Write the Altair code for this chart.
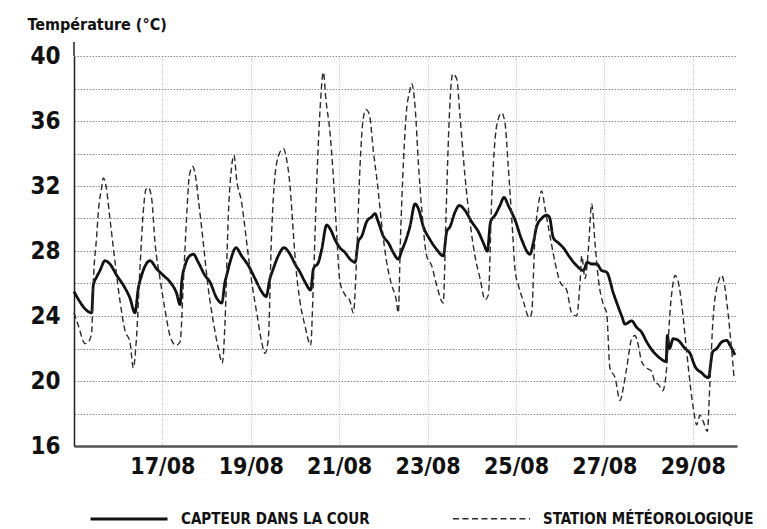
import altair as alt
import pandas as pd

# ---- data (hours since 15/08 00:00, temperature °C) ----
capteur_h = [0, 9.6, 10.5, 12.3, 14.1, 16.8, 19.5, 23.2, 26.8, 30.4, 33.1, 34.9, 36.7, 41.3, 44.9,
             48.5, 52.1, 55.7, 57.6, 58.5, 60.3, 62.1, 64.8, 67.5, 71.1, 73.8, 77.5, 80.2, 82.0, 82.9,
             84.7, 88.0, 91.0, 94.7, 98.3, 101.9, 104.3, 106.4, 108.2, 110.9, 114.0, 117.3, 120.0,
             122.7, 125.4, 128.5, 130.0, 132.7, 134.5, 137.2, 139.4, 141.7, 144.4, 147.2, 149.9,
             152.6, 154.4, 156.2, 158.9, 161.6, 163.4, 165.2, 168.0, 170.7, 173.4, 176.1, 177.9,
             180.6, 182.4, 185.2, 187.0, 189.7, 193.3, 196.9, 200.5, 202.4, 204.2, 206.9, 209.2,
             212.3, 215.9, 219.5, 222.3, 224.4, 226.2, 228.6, 231.3, 233.5, 235.8, 239.5, 243.1,
             247.6, 249.4, 251.2, 253.9, 256.7, 258.1, 260.3, 263.0, 265.7, 269.3, 272.9, 276.6,
             278.7, 281.1, 283.8, 286.5, 289.2, 292.9, 297.4, 299.2, 302.8, 305.5, 308.2, 311.0,
             314.6, 318.2, 321.5, 322.2, 323.3, 325.4, 328.1, 331.8, 334.5, 337.2, 340.8, 344.4,
             346.8, 349.0, 351.7, 354.4, 356.2, 358.9]
capteur_t = [25.5, 24.2, 25.9, 26.4, 26.8, 27.4, 27.2, 26.5, 25.9, 25.1, 24.2, 25.7, 26.5, 27.4, 26.9,
             26.5, 26.1, 25.4, 24.7, 26.1, 27.1, 27.6, 27.8, 27.3, 26.5, 26.1, 25.1, 24.8, 26.1, 26.5,
             27.3, 28.2, 27.7, 27.1, 26.3, 25.5, 25.2, 26.3, 26.9, 27.7, 28.2, 27.8, 27.2,
             26.7, 26.1, 25.6, 26.9, 27.3, 28.1, 29.6, 29.3, 28.7, 28.2, 27.9, 27.5,
             27.3, 28.6, 28.9, 29.8, 30.1, 30.3, 29.8, 28.9, 28.5, 27.9, 27.5, 28.0,
             28.8, 29.5, 30.9, 30.6, 29.5, 28.7, 28.1, 27.7, 29.2, 29.5, 30.4, 30.8,
             30.5, 29.8, 29.2, 28.5, 28.0, 29.8, 30.2, 30.8, 31.3, 30.8, 29.9, 28.7,
             27.8, 28.5, 29.5, 30.0, 30.2, 30.1, 28.8, 28.5, 28.2, 27.6, 27.1, 26.8,
             27.3, 27.2, 27.2, 26.8, 26.7, 25.4, 24.0, 23.5, 23.7, 23.3, 23.0, 22.4,
             21.8, 21.4, 21.2, 22.8, 22.0, 22.6, 22.5, 22.0, 21.7, 20.9, 20.5, 20.2,
             21.8, 22.0, 22.4, 22.5, 22.2, 21.6]

station_h = [0, 2.4, 6.0, 7.8, 9.6, 10.5, 12.3, 13.2, 15.0, 15.9, 17.4, 19.5, 22.3, 25.0, 27.7, 30.4,
             32.2, 34.0, 35.8, 37.6, 39.1, 40.4, 42.2, 44.0, 46.7, 49.4, 52.1, 55.4, 57.6, 59.4, 61.2,
             62.6, 64.4, 65.7, 67.5, 70.2, 72.9, 75.7, 78.4, 80.5, 82.0, 83.8, 85.6, 86.9, 88.3, 91.0,
             93.8, 96.5, 99.2, 101.9, 103.7, 105.5, 107.3, 109.1, 111.5, 113.7, 115.5, 117.3, 119.1,
             120.5, 122.7, 125.4, 128.5, 130.0, 131.8, 133.6, 135.4, 136.8, 139.0, 140.8, 142.6,
             144.4, 147.2, 149.9, 151.7, 153.5, 155.3, 157.1, 158.6, 160.4, 162.5, 164.7, 167.1,
             169.8, 172.5, 174.8, 176.1, 177.2, 178.5, 180.3, 182.4, 183.3, 185.2, 187.0, 188.8,
             191.5, 194.2, 196.9, 200.5, 202.0, 203.8, 205.6, 207.8, 209.6, 212.3, 215.0, 217.7,
             220.5, 223.2, 225.0, 226.8, 229.5, 232.2, 234.0, 235.8, 238.2, 239.5, 241.3, 244.0,
             247.2, 248.5, 250.3, 252.1, 253.9, 255.8, 258.5, 261.2, 263.9, 267.5, 270.2, 272.9,
             274.8, 275.7, 277.5, 279.3, 281.1, 282.9, 284.7, 287.4, 289.2, 291.0, 293.8, 296.5,
             298.3, 300.1, 302.8, 304.6, 306.4, 308.2, 311.0, 313.7, 315.5, 317.3, 319.6, 321.8,
             323.6, 325.4, 326.3, 328.1, 330.0, 331.8, 333.6, 336.3, 338.1, 339.9, 341.7, 343.9,
             345.3, 347.1, 349.9, 351.7, 352.9, 354.4, 356.2, 358.4]
station_t = [24.2, 23.4, 22.3, 22.4, 23.0, 26.1, 28.9, 30.4, 31.9, 32.5, 32.0, 30.0, 27.3, 24.9, 23.1, 22.4,
             20.8, 22.8, 26.9, 30.4, 31.8, 31.9, 31.2, 28.5, 26.3, 24.4, 22.8, 22.2, 22.4, 26.1, 30.2,
             32.6, 33.2, 32.8, 31.2, 28.5, 25.7, 23.6, 22.0, 21.1, 23.6, 30.2, 33.2, 33.9, 32.4, 31.0,
             28.5, 26.1, 24.2, 22.4, 21.7, 22.6, 29.1, 32.6, 34.0, 34.3, 33.6, 32.0, 29.1,
             27.0, 24.9, 23.4, 22.2, 26.1, 32.2, 36.7, 39.0, 37.3, 35.3, 32.6, 29.1,
             26.1, 25.3, 24.9, 24.2, 27.7, 33.2, 36.2, 36.7, 36.4, 34.2, 32.2, 29.6,
             27.3, 25.9, 25.1, 24.2, 28.5, 32.5, 36.3, 37.9, 38.3, 36.9, 33.4, 30.6,
             27.7, 27.1, 25.9, 24.8, 30.2, 36.3, 38.9, 38.6, 36.3, 32.6, 29.8, 27.7,
             26.3, 25.0, 25.3, 31.2, 35.7, 36.5, 35.9, 33.2, 29.1, 26.8, 25.9, 24.9,
             23.9, 24.2, 28.9, 30.8, 31.7, 30.6, 28.9, 27.3, 26.1, 25.6, 24.2, 24.0,
             26.1, 27.7, 26.3, 28.1, 30.9, 28.5, 26.3, 24.7, 24.2, 20.8, 20.2, 18.8,
             19.6, 20.8, 22.6, 22.8, 22.2, 21.2, 20.8, 20.6, 19.9, 19.8, 19.4, 20.8,
             24.2, 26.1, 26.5, 26.1, 24.7, 22.8, 20.8, 18.3, 17.3, 17.9, 17.5, 16.9,
             19.9, 24.0, 26.1, 26.5, 26.1, 24.9, 23.0, 20.2]

SERIES = ["CAPTEUR DANS LA COUR", "STATION MÉTÉOROLOGIQUE"]
Y_TICKS = [16, 18, 20, 22, 24, 26, 28, 30, 32, 34, 36, 38, 40]
X_TICK_DAYS = [17, 19, 21, 23, 25, 27, 29]
START_DAY, END_DAY = 15, 30
BASE = pd.Timestamp("2019-08-15 00:00")

rows = []
for name, hs, ts in ((SERIES[0], capteur_h, capteur_t), (SERIES[1], station_h, station_t)):
    for h, t in zip(hs, ts):
        rows.append({"serie": name, "time": BASE + pd.Timedelta(hours=h), "temp": t})
df = pd.DataFrame(rows)

FONT = "DejaVu Sans Condensed, DejaVu Sans, sans-serif"

x_enc = alt.X(
    "time:T",
    scale=alt.Scale(domain=[alt.DateTime(year=2019, month=8, date=START_DAY),
                            alt.DateTime(year=2019, month=8, date=END_DAY)]),
    axis=alt.Axis(
        values=[alt.DateTime(year=2019, month=8, date=d) for d in X_TICK_DAYS],
        format="%d/%m", title=None, ticks=False, labelPadding=9,
        labelFont=FONT, labelFontSize=23, labelFontWeight="bold", labelColor="#111111",
        domainColor="#555555", domainWidth=2.5,
        grid=True, gridColor="#bdbdbd", gridDash=[1, 1.5], gridWidth=1,
    ),
)
y_enc = alt.Y(
    "temp:Q",
    scale=alt.Scale(domain=[16, 40], nice=False, zero=False),
    axis=alt.Axis(
        values=Y_TICKS,
        labelExpr="datum.value % 4 === 0 ? datum.label : ''",
        title="Température (°C)", titleAngle=0, titleAlign="left", titleBaseline="middle",
        titleX=-47, titleY=-32, titleFont=FONT, titleFontSize=16, titleFontWeight="bold",
        titleColor="#111111",
        ticks=False, labelPadding=14,
        labelFont=FONT, labelFontSize=24, labelFontWeight="bold", labelColor="#111111",
        domainColor="#222222", domainWidth=1.5,
        grid=True, gridColor="#8a8a8a", gridDash=[1.5, 1.5], gridWidth=1,
    ),
)

legend = alt.Legend(title=None)

lines = alt.Chart(df).mark_line(interpolate="monotone", strokeCap="butt", strokeJoin="round").encode(
    x=x_enc,
    y=y_enc,
    detail="serie:N",
    strokeDash=alt.StrokeDash("serie:N", scale=alt.Scale(domain=SERIES, range=[[1, 0], [6, 3.5]]),
                              legend=legend),
    strokeWidth=alt.StrokeWidth("serie:N", scale=alt.Scale(domain=SERIES, range=[2.8, 1.4]),
                                legend=legend),
    color=alt.Color("serie:N", scale=alt.Scale(domain=SERIES, range=["#111111", "#2b2b2b"]),
                    legend=legend),
)

axis_ext = alt.Chart(pd.DataFrame({"k": [0]})).mark_rule(color="#222222", strokeWidth=1.5).encode(
    x=alt.value(0), y=alt.value(-14), y2=alt.value(0)
)

chart = alt.layer(lines, axis_ext).properties(
    width=663, height=390,
    padding={"left": 19, "top": 8, "right": 5, "bottom": 5},
    background="white",
).configure_view(strokeWidth=0).configure_legend(
    orient="none", legendX=15, legendY=423, direction="horizontal",
    symbolType="stroke", symbolSize=5929,
    labelFont=FONT, labelFontSize=15, labelFontWeight="bold", labelColor="#111111",
    labelLimit=0, labelOffset=12, columnPadding=80, padding=0,
)

chart.save("out.html", embed_options={"renderer": "svg", "actions": False})
